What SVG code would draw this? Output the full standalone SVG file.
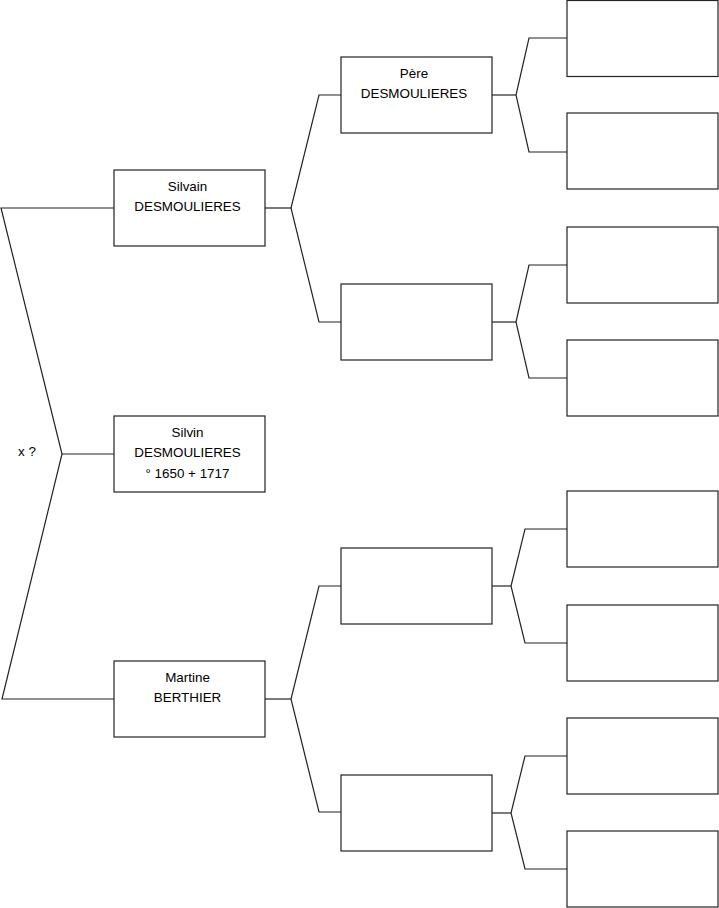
<svg xmlns="http://www.w3.org/2000/svg" width="719" height="908" viewBox="0 0 719 908">
<style>
.box{fill:#fff;stroke:#222;stroke-width:1.2}
.ln{fill:none;stroke:#222;stroke-width:1.2}
text{font-family:"Liberation Sans",Arial,sans-serif;font-size:13.4px;fill:#000;text-anchor:middle}
</style>
<rect width="719" height="908" fill="#fff"/>
<g id="connectors">
<polyline class="ln" points="114,208 1,208 62,454 2,699 114,699"/>
<line class="ln" x1="62" y1="454" x2="114" y2="454"/>
<text x="27" y="456">x ?</text>
<polyline class="ln" points="265,208 291,208"/>
<polyline class="ln" points="341,95 319,95 291,208 319,322 341,322"/>
<polyline class="ln" points="265,699 291,699"/>
<polyline class="ln" points="341,586 319,586 291,699 319,812 341,812"/>
<polyline class="ln" points="492,95 516,95"/>
<polyline class="ln" points="567,38 529,38 516,95 529,152 567,152"/>
<polyline class="ln" points="492,322 516,322"/>
<polyline class="ln" points="567,265 529,265 516,322 529,378 567,378"/>
<polyline class="ln" points="492,586 511,586"/>
<polyline class="ln" points="567,529 525,529 511,586 525,643 567,643"/>
<polyline class="ln" points="492,813 511,813"/>
<polyline class="ln" points="567,756 525,756 511,813 525,869 567,869"/>
</g>
<g id="silvain"><rect class="box" x="114" y="170" width="151" height="76"/><text x="187.5" y="191">Silvain</text><text x="187.5" y="211">DESMOULIERES</text></g>
<g id="silvin"><rect class="box" x="114" y="416" width="151" height="76"/><text x="187.5" y="437">Silvin</text><text x="187.5" y="457">DESMOULIERES</text><text x="187.5" y="478">° 1650 + 1717</text></g>
<g id="martine"><rect class="box" x="114" y="661" width="151" height="76"/><text x="187.5" y="682">Martine</text><text x="187.5" y="702">BERTHIER</text></g>
<g id="pere"><rect class="box" x="341" y="57" width="151" height="76"/><text x="414" y="78">Père</text><text x="414" y="98">DESMOULIERES</text></g>
<g id="mid2"><rect class="box" x="341" y="284" width="151" height="76"/></g>
<g id="mid3"><rect class="box" x="341" y="548" width="151" height="76"/></g>
<g id="mid4"><rect class="box" x="341" y="775" width="151" height="76"/></g>
<g id="r1"><rect class="box" x="567" y="0.5" width="151" height="76"/></g>
<g id="r2"><rect class="box" x="567" y="113" width="151" height="76"/></g>
<g id="r3"><rect class="box" x="567" y="227" width="151" height="76"/></g>
<g id="r4"><rect class="box" x="567" y="340" width="151" height="76"/></g>
<g id="r5"><rect class="box" x="567" y="491" width="151" height="76"/></g>
<g id="r6"><rect class="box" x="567" y="605" width="151" height="76"/></g>
<g id="r7"><rect class="box" x="567" y="718" width="151" height="76"/></g>
<g id="r8"><rect class="box" x="567" y="831" width="151" height="76"/></g>
</svg>
